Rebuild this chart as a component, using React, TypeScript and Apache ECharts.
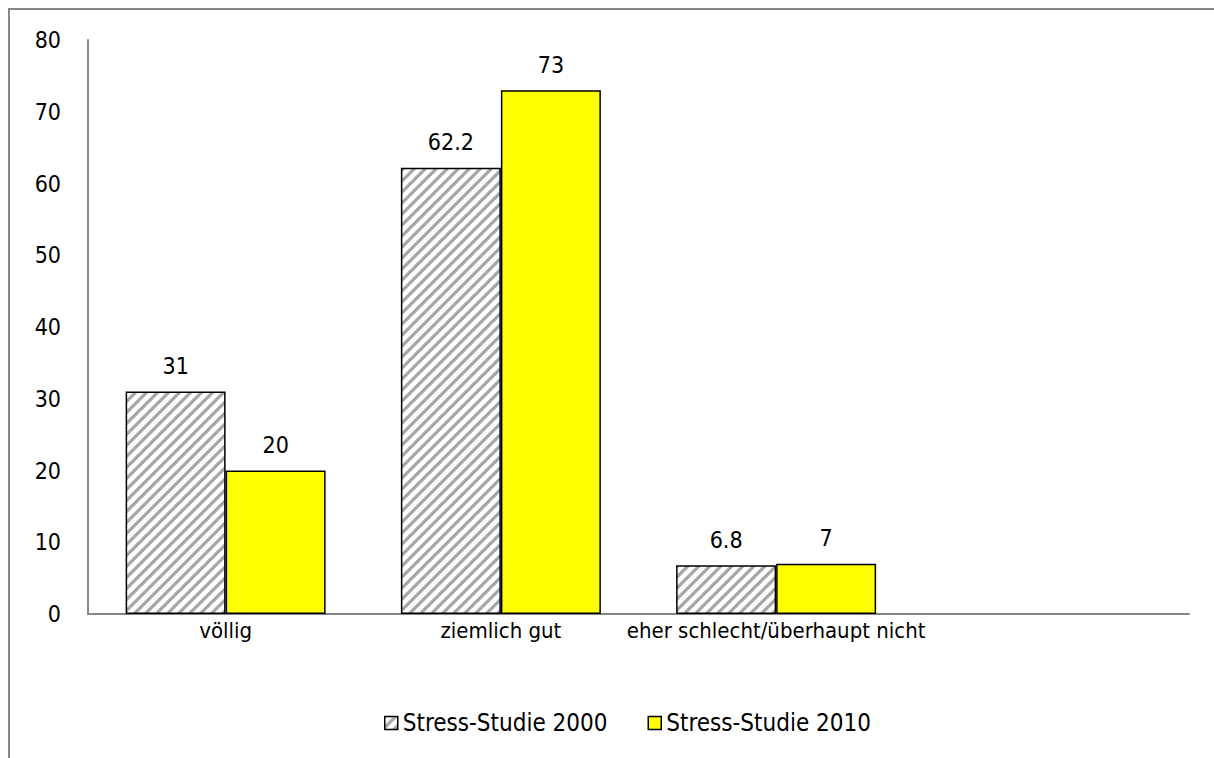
import React, { useEffect, useRef } from "react";
import * as echarts from "echarts";

const categories = ["völlig", "ziemlich gut", "eher schlecht/überhaupt nicht", ""];
const series2000 = [31, 62.2, 6.8, null];
const series2010 = [20, 73, 7, null];
const seriesNames = ["Stress-Studie 2000", "Stress-Studie 2010"];
const yTicks = [0, 10, 20, 30, 40, 50, 60, 70, 80];

const FONT = '"Liberation Sans Narrow", "Arial Narrow", "DejaVu Sans Condensed", sans-serif';

function makeHatch(): HTMLCanvasElement {
  const s = 11;
  const c = document.createElement("canvas");
  c.width = s;
  c.height = s;
  const ctx = c.getContext("2d")!;
  ctx.fillStyle = "#ffffff";
  ctx.fillRect(0, 0, s, s);
  ctx.strokeStyle = "#a6a6a6";
  ctx.lineWidth = 3.2;
  ctx.beginPath();
  for (const o of [-s, 0, s]) {
    ctx.moveTo(o - 1, s + 1);
    ctx.lineTo(o + s + 1, -1);
  }
  ctx.stroke();
  return c;
}

export default function App() {
  const ref = useRef<HTMLDivElement>(null);
  useEffect(() => {
    if (!ref.current) return;
    const chart = echarts.init(ref.current, undefined, { renderer: "svg" });
    const hatch = { image: makeHatch(), repeat: "repeat" } as any;
    chart.setOption({
      animation: false,
      backgroundColor: "#ffffff",
      textStyle: { fontFamily: FONT },
      graphic: [
        {
          type: "rect",
          silent: true,
          shape: { x: 9, y: 9, width: 1400, height: 1000 },
          style: { fill: "none", stroke: "#868686", lineWidth: 2 },
        },
      ],
      grid: { left: 88, right: 25, top: 40, bottom: 144, containLabel: false },
      legend: {
        left: 379,
        top: 706,
        itemWidth: 13,
        itemHeight: 13,
        itemGap: 40,
        icon: "rect",
        textStyle: { fontFamily: FONT, fontSize: 24, color: "#000" },
        data: [
          { name: seriesNames[0], itemStyle: { color: hatch, borderColor: "#000", borderWidth: 1.5 } },
          { name: seriesNames[1], itemStyle: { color: "#ffff00", borderColor: "#000", borderWidth: 1.5 } },
        ],
      },
      xAxis: {
        type: "category",
        data: categories,
        axisLine: { lineStyle: { color: "#868686", width: 2 } },
        axisTick: { show: false },
        axisLabel: { fontFamily: FONT, fontSize: 22, color: "#000", margin: 5, interval: 0 },
      },
      yAxis: {
        type: "value",
        min: yTicks[0],
        max: yTicks[yTicks.length - 1],
        interval: 10,
        splitLine: { show: false },
        axisLine: { show: true, lineStyle: { color: "#868686", width: 2 } },
        axisTick: { show: false },
        axisLabel: { fontFamily: FONT, fontSize: 23, color: "#000", margin: 27 },
      },
      series: [
        {
          name: seriesNames[0],
          type: "bar",
          data: series2000,
          barWidth: 100,
          barGap: "0%",
          itemStyle: { color: hatch, borderColor: "#000", borderWidth: 1.5 },
          label: { show: true, position: "top", distance: 14, fontFamily: FONT, fontSize: 23, color: "#000" },
        },
        {
          name: seriesNames[1],
          type: "bar",
          data: series2010,
          barWidth: 100,
          barGap: "0%",
          itemStyle: { color: "#ffff00", borderColor: "#000", borderWidth: 1.5 },
          label: { show: true, position: "top", distance: 14, fontFamily: FONT, fontSize: 23, color: "#000" },
        },
      ],
    });
    return () => chart.dispose();
  }, []);
  return (
    <div
      ref={ref}
      style={{ position: "absolute", left: 0, top: 0, width: 1214, height: 758 }}
    />
  );
}
